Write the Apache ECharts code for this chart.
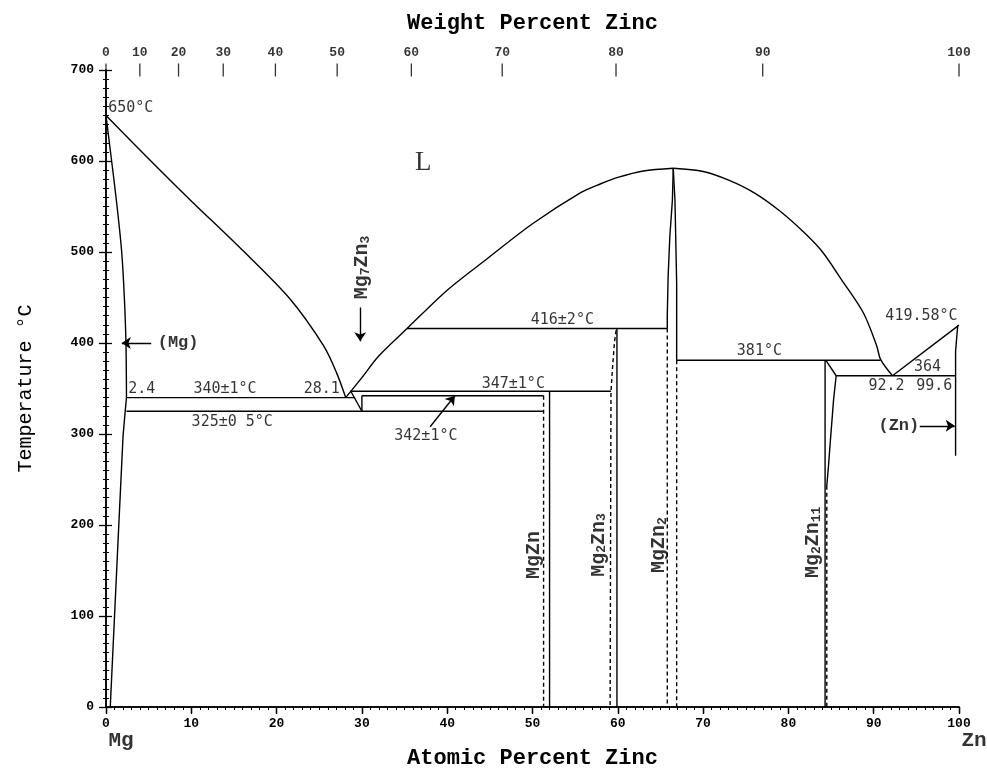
<!DOCTYPE html>
<html><head><meta charset="utf-8">
<script src="https://cdn.jsdelivr.net/npm/echarts@6/dist/echarts.min.js"></script>
<style>html,body{margin:0;padding:0;background:#fff}#c{width:987px;height:774px}</style>
</head><body><div id="c"></div><script>
// ---- data (x = atomic % Zn, y = temperature °C) ----
const atomicTicks = [0,10,20,30,40,50,60,70,80,90,100];
const tempTicks = [0,100,200,300,400,500,600,700];
const weightTicks = [0,10,20,30,40,50,60,70,80,90,100];

const mgLiquidus = [[0,650],[5.9,594],[9.9,557],[16.1,501],[21.6,448],[25.5,397],[27.0,368],[28.1,340]];
const mgSolidus = [[0,650],[0.66,600],[1.3,550],[1.84,500],[2.15,450],[2.34,400],[2.4,340]];
const mgSolvus = [[2.4,340],[2.25,325],[2.0,298],[1.5,200],[1.0,100],[0.5,0]];
const line340 = [[2.4,340],[29.2,340]];
const line325 = [[2.4,325],[51.3,325]];
const line342 = [[30.0,342],[51.3,342]];
const line347 = [[28.6,347],[59.2,347]];
const mg7Diag = [[28.7,347],[30.0,325]];
const mg7Vert = [[30.0,342],[30.0,325]];
const riseLiquidus = [[28.1,340],[30,362],[32,386],[35.3,416],[40,458],[44.6,492],[50,531],[55.6,565],[58,575],[60,582],[63,589],[66.5,592]];
const fallLiquidus = [[66.5,592],[70,588.5],[73,579],[76,565],[79,545],[82,520],[84,500],[86.2,470],[88.8,433],[90.35,397],[90.8,382],[92.2,364]];
const znLiquidus = [[92.2,364],[100,419.58]];
const line416 = [[35.3,416],[65.8,416]];
const line381 = [[66.9,381],[90.8,381]];
const line364 = [[85.6,364],[99.6,364]];
const mgZnSolid = [[52.0,347],[52.0,0]];
const mgZnDash = [[51.3,342],[51.3,0]];
const mg2Zn3Solid = [[59.9,416],[59.9,0]];
const mg2Zn3Dash = [[59.8,414],[59.6,400],[59.4,375],[59.2,347],[59.1,0]];
const mgZn2Left = [[66.5,592],[66.4,557],[66.1,517],[65.9,473],[65.8,430],[65.8,416]];
const mgZn2Right = [[66.5,592],[66.7,557],[66.9,466],[66.9,381]];
const mgZn2DashL = [[65.8,416],[65.8,0]];
const mgZn2DashR = [[66.9,381],[66.9,0]];
const mg2Zn11Solid = [[84.3,381],[84.3,0]];
const mg2Zn11Diag = [[84.4,381],[85.6,364]];
const mg2Zn11Right = [[85.6,364],[85.3,338],[84.9,290],[84.7,265],[84.5,243]];
const mg2Zn11Dash = [[84.5,243],[84.5,0]];
const znSolidus = [[99.85,419.58],[99.6,391],[99.6,276]];

const arrows = [
  [[5.3,400],[1.85,400]],
  [[95.4,309],[99.5,309]],
  [[29.8,439],[29.8,402]],
  [[38.0,308],[40.9,342]]
];

const numberLabels = [
  [2.9,658,'650°C'],[4.2,349,'2.4'],[13.95,349,'340±1°C'],[25.3,349,'28.1'],
  [14.8,313,'325±0 5°C'],[47.75,355,'347±1°C'],[37.5,298,'342±1°C'],
  [53.5,425,'416±2°C'],[76.6,391,'381°C'],[95.6,430,'419.58°C'],
  [96.3,373,'364'],[91.5,353,'92.2'],[97.1,353,'99.6']
];
const phaseLabels = [[8.45,400,'(Mg)'],[92.95,309,'(Zn)']];
const liquidLabel = [[37.2,598,'L']];
const compoundLabels = [
  [49.9,167,'{a|MgZn}'],
  [57.5,178,'{a|Mg}{s|2}{a|Zn}{s|3}'],
  [64.6,178,'{a|MgZn}{s|2}'],
  [82.7,181,'{a|Mg}{s|2}{a|Zn}{s|11}'],
  [29.8,483,'{a|Mg}{s|7}{a|Zn}{s|3}']
];
const elementLabels = [[0,0,'Mg'],[100,0,'Zn']];

// ---- build ----
const MZn = 65.38, MMg = 24.305;
function wtToAt(w){ const a=w/MZn, b=(100-w)/MMg; return 100*a/(a+b); }

const mono = 'Liberation Mono';
const solid = {color:'#000', width:1.4, type:'solid'};
const dashed = {color:'#000', width:1.4, type:[4,3]};

const smoothCurves = [mgLiquidus,mgSolidus,riseLiquidus,fallLiquidus];
const solidCurves = [mgSolvus,line340,line325,line342,line347,mg7Diag,mg7Vert,
  znLiquidus,line416,line381,line364,mgZnSolid,mg2Zn3Solid,mgZn2Left,mgZn2Right,
  mg2Zn11Solid,mg2Zn11Diag,mg2Zn11Right,znSolidus];
const dashedCurves = [mgZnDash,mg2Zn3Dash,mgZn2DashL,mgZn2DashR,mg2Zn11Dash];

const series = [];
smoothCurves.forEach(c=>series.push({type:'line',data:c,smooth:0.3,showSymbol:false,symbol:'none',lineStyle:solid,silent:true,animation:false,z:3}));
solidCurves.forEach(c=>series.push({type:'line',data:c,showSymbol:false,symbol:'none',lineStyle:solid,silent:true,animation:false,z:3}));
dashedCurves.forEach(c=>series.push({type:'line',data:c,showSymbol:false,symbol:'none',lineStyle:dashed,silent:true,animation:false,z:3}));
series.push({type:'lines',coordinateSystem:'cartesian2d',data:arrows.map(a=>({coords:a})),
  symbol:['none','arrow'],symbolSize:[1,9],lineStyle:{color:'#000',width:1.4,opacity:1},silent:true,animation:false,z:4});

function textSeries(items, labelStyle){
  return {type:'scatter',symbolSize:1,itemStyle:{color:'rgba(0,0,0,0)'},silent:true,animation:false,clip:false,z:6,
    data:items.map(d=>({value:[d[0],d[1]],label:{formatter:d[2]}})),
    label:Object.assign({show:true,position:'inside',color:'#000'},labelStyle)};
}
series.push(textSeries(numberLabels,{fontFamily:'DejaVu Sans Mono',fontSize:15}));
series.push(textSeries(phaseLabels,{fontFamily:mono,fontSize:17,fontWeight:'bold'}));
series.push(textSeries(liquidLabel,{fontFamily:'Liberation Serif',fontSize:27}));
series.push(textSeries(compoundLabels,{rotate:90,rich:{
  a:{fontFamily:mono,fontSize:20,fontWeight:'bold',color:'#000',lineHeight:24,verticalAlign:'bottom'},
  s:{fontFamily:mono,fontSize:13,fontWeight:'bold',color:'#000',lineHeight:24,verticalAlign:'bottom'}}}));
series.push(textSeries(elementLabels,{fontFamily:mono,fontSize:21,fontWeight:'bold',offset:[15,34]}));
// weight-percent ticks on the top axis
series.push({type:'scatter',silent:true,animation:false,clip:false,z:6,symbol:'rect',symbolSize:[1.3,13],
  itemStyle:{color:'#000'},data:weightTicks.map(w=>({value:[wtToAt(w),700],label:{formatter:String(w)}})),
  label:{show:true,position:'top',distance:4,fontFamily:mono,fontSize:13,fontWeight:'bold',color:'#000'}});

const axisLine = {show:true,lineStyle:{color:'#000',width:1.5}};
const nameStyle = {fontFamily:mono,fontSize:22,fontWeight:'bold',color:'#000'};
const option = {
  animation:false,
  backgroundColor:'#fff',
  grid:{left:106,right:28,top:70,bottom:65},
  xAxis:[
    {type:'value',position:'bottom',min:0,max:100,interval:10,axisLine,
     axisTick:{show:true,inside:false,length:6,lineStyle:{color:'#000',width:1.3}},
     minorTick:{show:true,splitNumber:10,length:3,lineStyle:{color:'#000'}},
     splitLine:{show:false},
     axisLabel:{color:'#000',fontFamily:mono,fontSize:13,fontWeight:'bold',margin:10},
     name:'Atomic Percent Zinc',nameLocation:'middle',nameGap:40,nameTextStyle:nameStyle},
    {type:'value',position:'top',min:0,max:100,interval:10,axisLine,
     axisTick:{show:true,inside:true,length:7,lineStyle:{color:'#000',width:1.3}},
     minorTick:{show:true,splitNumber:10,length:3,lineStyle:{color:'#000'}},
     splitLine:{show:false},axisLabel:{show:false},
     name:'Weight Percent Zinc',nameLocation:'middle',nameGap:36,nameTextStyle:nameStyle}
  ],
  yAxis:[
    {type:'value',position:'left',min:0,max:700,interval:100,axisLine,
     axisTick:{show:true,length:7,lineStyle:{color:'#000',width:1.3}},
     minorTick:{show:true,splitNumber:10,length:3,lineStyle:{color:'#000'}},
     splitLine:{show:false},
     axisLabel:{color:'#000',fontFamily:mono,fontSize:13,fontWeight:'bold',margin:12},
     name:'Temperature °C',nameLocation:'middle',nameGap:70,nameRotate:90,
     nameTextStyle:Object.assign({},nameStyle,{fontSize:20,fontWeight:'normal'})},
    {type:'value',position:'right',min:0,max:700,interval:100,axisLine,
     axisTick:{show:true,length:6,lineStyle:{color:'#000',width:1.3}},
     minorTick:{show:true,splitNumber:10,length:3,lineStyle:{color:'#000'}},
     splitLine:{show:false},axisLabel:{show:false}}
  ],
  series
};
const chart = echarts.init(document.getElementById('c'),null,{renderer:'canvas'});
chart.setOption(option);
</script></body></html>
